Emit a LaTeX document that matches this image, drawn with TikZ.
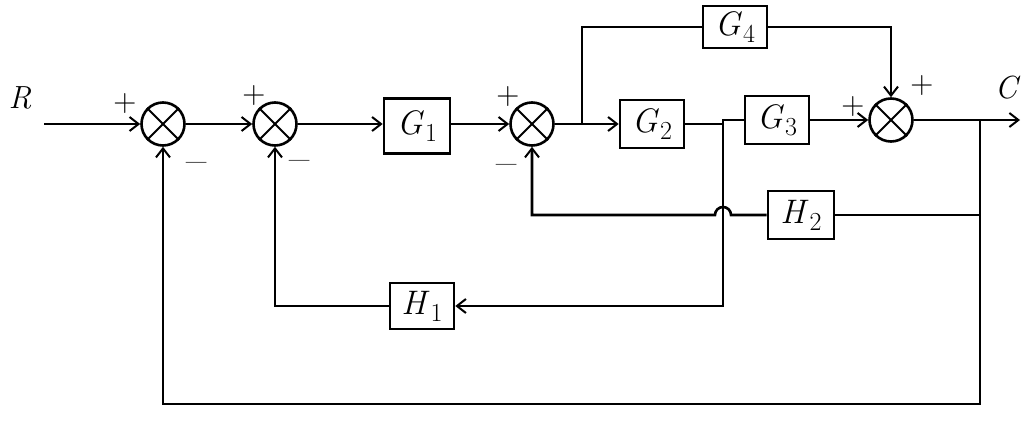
\documentclass[tikz,border=0pt]{standalone}
\usepackage{fontspec}
\usetikzlibrary{arrows.meta}
\newcommand{\blab}[2]{\textit{#1}\kern1pt\raisebox{-0.2em}{\fontsize{26}{28}\selectfont #2}}
\begin{document}
\begin{tikzpicture}[x=1pt,y=-1pt,
  line width=2.6pt,
  >={Straight Barb[length=9pt,width=14pt,line width=2pt]},
  sum/.style={circle,draw,minimum size=43pt,inner sep=0pt},
  blk/.style={draw,minimum width=66pt,minimum height=48pt,inner sep=0pt,font=\fontsize{34}{38}\selectfont},
  lab/.style={font=\fontsize{32}{36}\selectfont\itshape,inner sep=0pt},
  sgn/.style={font=\fontsize{32}{34}\selectfont,inner sep=0pt},
  mns/.style={font=\fontsize{44}{46}\selectfont,inner sep=0pt}]
\useasboundingbox (0,0) rectangle (1022,430);
% summing junctions
\node[sum] (s1) at (163,124) {};
\node[sum] (s2) at (275,124) {};
\node[sum] (s3) at (532,124) {};
\node[sum] (s4) at (891,120) {};
\foreach \s in {s1,s2,s3,s4}{
  \draw[line width=2pt] (\s.north west) -- (\s.south east);
  \draw[line width=2pt] (\s.north east) -- (\s.south west);
}
% blocks
\node[blk,minimum height=55pt] (G1) at (417,126) {\blab{G}{1}};
\node[blk,minimum width=64pt] (G2) at (652,124) {\blab{G}{2}};
\node[blk,minimum width=64pt] (G3) at (777,120) {\blab{G}{3}};
\node[blk,minimum width=64pt,minimum height=42pt] (G4) at (735,27) {\blab{G}{4}};
\node[blk,minimum width=66pt,minimum height=48pt] (H2) at (801,215) {\blab{H}{2}};
\node[blk,minimum width=64pt,minimum height=46pt] (H1) at (422,306) {\blab{H}{1}};
% labels
\node[lab] (R) at (20,98) {R};
\node[lab] (C) at (1006,88) {C};
\coordinate (Rin) at (44,124);
\coordinate (out) at (1020,120);
\coordinate (b1) at (582,124);
\coordinate (b2) at (723,124);
\coordinate (b2t) at (723,120);
\coordinate (b3) at (980,120);
\coordinate (h2r) at (980,215);
\coordinate (h1r) at (723,306);
\coordinate (bot) at (980,404);
\coordinate (s3b) at (532,215);
\coordinate (s1b) at (163,404);
% signs
\node[sgn] (p1) at (125,104) {+};
\node[mns] (m1) at (197,168) {–};
\node[sgn] (p2) at (254,96) {+};
\node[mns] (m2) at (300,166) {–};
\node[sgn] (p3) at (508,97) {+};
\node[mns] (m3) at (507,170) {–};
\node[sgn] (p4) at (853,107) {+};
\node[sgn] (p5) at (922,86) {+};
% forward path
\draw[->] (Rin) -- (s1.west);
\draw[->] (s1.east) -- (s2.west);
\draw[->] (s2.east) -- (G1.west |- s2.east);
\draw[->] (G1.east |- s3.west) -- (s3.west);
\draw (s3.east) -- (b1);
\draw[->] (b1) -- (G2.west);
\draw (b1) |- (G4.west);
\draw[->] (G4.east) -| (s4.north);
\draw (G2.east) -- (b2) -- (b2t) -- (G3.west);
\draw[->] (G3.east) -- (s4.west);
\draw[->] (s4.east) -- (out);
% feedback H2
\draw (b3) -- (h2r) -- (H2.east);
\draw[->] (H2.west) -- (731,215) arc[start angle=0,end angle=180,radius=8pt] -- (s3b) -- (s3.south);
% feedback H1
\draw[->] (b2) -- (h1r) -- (H1.east);
\draw[->] (H1.west) -| (s2.south);
% outer feedback
\draw[->] (b3) -- (bot) -- (s1b) -- (s1.south);
\end{tikzpicture}
\end{document}
